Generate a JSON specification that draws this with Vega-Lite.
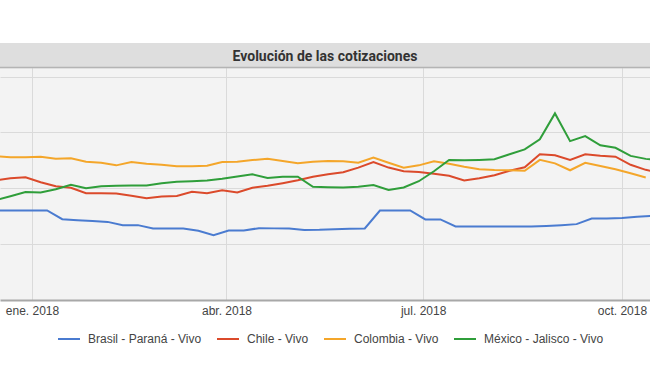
{
"$schema": "https://vega.github.io/schema/vega-lite/v6.json",
"width": 650,
"height": 257,
"autosize": {"type": "none"},
"padding": {"top": 43, "left": 0, "right": 0, "bottom": 66},
"background": "#ffffff",
"view": {"fill": "#f3f3f3", "stroke": null},
"config": {"font": "Liberation Sans"},
"layer": [
{
"data": {"values": [
{"d":"2017-12-11","s":"Brasil - Paraná - Vivo","v":0.801},
{"d":"2017-12-18","s":"Brasil - Paraná - Vivo","v":0.801},
{"d":"2017-12-25","s":"Brasil - Paraná - Vivo","v":0.801},
{"d":"2018-01-01","s":"Brasil - Paraná - Vivo","v":0.801},
{"d":"2018-01-08","s":"Brasil - Paraná - Vivo","v":0.801},
{"d":"2018-01-15","s":"Brasil - Paraná - Vivo","v":0.723},
{"d":"2018-01-22","s":"Brasil - Paraná - Vivo","v":0.714},
{"d":"2018-01-29","s":"Brasil - Paraná - Vivo","v":0.707},
{"d":"2018-02-05","s":"Brasil - Paraná - Vivo","v":0.699},
{"d":"2018-02-12","s":"Brasil - Paraná - Vivo","v":0.670},
{"d":"2018-02-19","s":"Brasil - Paraná - Vivo","v":0.670},
{"d":"2018-02-26","s":"Brasil - Paraná - Vivo","v":0.640},
{"d":"2018-03-05","s":"Brasil - Paraná - Vivo","v":0.640},
{"d":"2018-03-12","s":"Brasil - Paraná - Vivo","v":0.640},
{"d":"2018-03-19","s":"Brasil - Paraná - Vivo","v":0.619},
{"d":"2018-03-26","s":"Brasil - Paraná - Vivo","v":0.580},
{"d":"2018-04-02","s":"Brasil - Paraná - Vivo","v":0.621},
{"d":"2018-04-09","s":"Brasil - Paraná - Vivo","v":0.621},
{"d":"2018-04-16","s":"Brasil - Paraná - Vivo","v":0.643},
{"d":"2018-04-23","s":"Brasil - Paraná - Vivo","v":0.641},
{"d":"2018-04-30","s":"Brasil - Paraná - Vivo","v":0.640},
{"d":"2018-05-07","s":"Brasil - Paraná - Vivo","v":0.627},
{"d":"2018-05-14","s":"Brasil - Paraná - Vivo","v":0.629},
{"d":"2018-05-21","s":"Brasil - Paraná - Vivo","v":0.634},
{"d":"2018-05-28","s":"Brasil - Paraná - Vivo","v":0.638},
{"d":"2018-06-04","s":"Brasil - Paraná - Vivo","v":0.640},
{"d":"2018-06-11","s":"Brasil - Paraná - Vivo","v":0.801},
{"d":"2018-06-18","s":"Brasil - Paraná - Vivo","v":0.801},
{"d":"2018-06-25","s":"Brasil - Paraná - Vivo","v":0.801},
{"d":"2018-07-02","s":"Brasil - Paraná - Vivo","v":0.721},
{"d":"2018-07-09","s":"Brasil - Paraná - Vivo","v":0.721},
{"d":"2018-07-16","s":"Brasil - Paraná - Vivo","v":0.658},
{"d":"2018-07-23","s":"Brasil - Paraná - Vivo","v":0.658},
{"d":"2018-07-30","s":"Brasil - Paraná - Vivo","v":0.658},
{"d":"2018-08-06","s":"Brasil - Paraná - Vivo","v":0.658},
{"d":"2018-08-13","s":"Brasil - Paraná - Vivo","v":0.658},
{"d":"2018-08-20","s":"Brasil - Paraná - Vivo","v":0.658},
{"d":"2018-08-27","s":"Brasil - Paraná - Vivo","v":0.663},
{"d":"2018-09-03","s":"Brasil - Paraná - Vivo","v":0.670},
{"d":"2018-09-10","s":"Brasil - Paraná - Vivo","v":0.679},
{"d":"2018-09-17","s":"Brasil - Paraná - Vivo","v":0.729},
{"d":"2018-09-24","s":"Brasil - Paraná - Vivo","v":0.730},
{"d":"2018-10-01","s":"Brasil - Paraná - Vivo","v":0.734},
{"d":"2018-10-08","s":"Brasil - Paraná - Vivo","v":0.746},
{"d":"2018-10-15","s":"Brasil - Paraná - Vivo","v":0.753},
{"d":"2017-12-15","s":"Chile - Vivo","v":1.071},
{"d":"2017-12-22","s":"Chile - Vivo","v":1.089},
{"d":"2017-12-29","s":"Chile - Vivo","v":1.098},
{"d":"2018-01-05","s":"Chile - Vivo","v":1.054},
{"d":"2018-01-12","s":"Chile - Vivo","v":1.018},
{"d":"2018-01-19","s":"Chile - Vivo","v":1.004},
{"d":"2018-01-26","s":"Chile - Vivo","v":0.955},
{"d":"2018-02-02","s":"Chile - Vivo","v":0.955},
{"d":"2018-02-09","s":"Chile - Vivo","v":0.953},
{"d":"2018-02-16","s":"Chile - Vivo","v":0.933},
{"d":"2018-02-23","s":"Chile - Vivo","v":0.911},
{"d":"2018-03-02","s":"Chile - Vivo","v":0.926},
{"d":"2018-03-09","s":"Chile - Vivo","v":0.931},
{"d":"2018-03-16","s":"Chile - Vivo","v":0.969},
{"d":"2018-03-23","s":"Chile - Vivo","v":0.955},
{"d":"2018-03-30","s":"Chile - Vivo","v":0.982},
{"d":"2018-04-06","s":"Chile - Vivo","v":0.962},
{"d":"2018-04-13","s":"Chile - Vivo","v":1.004},
{"d":"2018-04-20","s":"Chile - Vivo","v":1.022},
{"d":"2018-04-27","s":"Chile - Vivo","v":1.045},
{"d":"2018-05-04","s":"Chile - Vivo","v":1.071},
{"d":"2018-05-11","s":"Chile - Vivo","v":1.103},
{"d":"2018-05-18","s":"Chile - Vivo","v":1.125},
{"d":"2018-05-25","s":"Chile - Vivo","v":1.143},
{"d":"2018-06-01","s":"Chile - Vivo","v":1.185},
{"d":"2018-06-08","s":"Chile - Vivo","v":1.235},
{"d":"2018-06-15","s":"Chile - Vivo","v":1.185},
{"d":"2018-06-22","s":"Chile - Vivo","v":1.152},
{"d":"2018-06-29","s":"Chile - Vivo","v":1.146},
{"d":"2018-07-06","s":"Chile - Vivo","v":1.129},
{"d":"2018-07-13","s":"Chile - Vivo","v":1.112},
{"d":"2018-07-20","s":"Chile - Vivo","v":1.069},
{"d":"2018-07-27","s":"Chile - Vivo","v":1.089},
{"d":"2018-08-03","s":"Chile - Vivo","v":1.116},
{"d":"2018-08-10","s":"Chile - Vivo","v":1.156},
{"d":"2018-08-17","s":"Chile - Vivo","v":1.188},
{"d":"2018-08-24","s":"Chile - Vivo","v":1.304},
{"d":"2018-08-31","s":"Chile - Vivo","v":1.295},
{"d":"2018-09-07","s":"Chile - Vivo","v":1.253},
{"d":"2018-09-14","s":"Chile - Vivo","v":1.304},
{"d":"2018-09-21","s":"Chile - Vivo","v":1.290},
{"d":"2018-09-28","s":"Chile - Vivo","v":1.283},
{"d":"2018-10-05","s":"Chile - Vivo","v":1.210},
{"d":"2018-10-12","s":"Chile - Vivo","v":1.165},
{"d":"2018-10-19","s":"Chile - Vivo","v":1.134},
{"d":"2017-12-15","s":"Colombia - Vivo","v":1.286},
{"d":"2017-12-22","s":"Colombia - Vivo","v":1.277},
{"d":"2017-12-29","s":"Colombia - Vivo","v":1.277},
{"d":"2018-01-05","s":"Colombia - Vivo","v":1.281},
{"d":"2018-01-12","s":"Colombia - Vivo","v":1.265},
{"d":"2018-01-19","s":"Colombia - Vivo","v":1.268},
{"d":"2018-01-26","s":"Colombia - Vivo","v":1.237},
{"d":"2018-02-02","s":"Colombia - Vivo","v":1.228},
{"d":"2018-02-09","s":"Colombia - Vivo","v":1.205},
{"d":"2018-02-16","s":"Colombia - Vivo","v":1.235},
{"d":"2018-02-23","s":"Colombia - Vivo","v":1.219},
{"d":"2018-03-02","s":"Colombia - Vivo","v":1.210},
{"d":"2018-03-09","s":"Colombia - Vivo","v":1.196},
{"d":"2018-03-16","s":"Colombia - Vivo","v":1.198},
{"d":"2018-03-23","s":"Colombia - Vivo","v":1.201},
{"d":"2018-03-30","s":"Colombia - Vivo","v":1.235},
{"d":"2018-04-06","s":"Colombia - Vivo","v":1.237},
{"d":"2018-04-13","s":"Colombia - Vivo","v":1.252},
{"d":"2018-04-20","s":"Colombia - Vivo","v":1.263},
{"d":"2018-04-27","s":"Colombia - Vivo","v":1.244},
{"d":"2018-05-04","s":"Colombia - Vivo","v":1.223},
{"d":"2018-05-11","s":"Colombia - Vivo","v":1.237},
{"d":"2018-05-18","s":"Colombia - Vivo","v":1.244},
{"d":"2018-05-25","s":"Colombia - Vivo","v":1.241},
{"d":"2018-06-01","s":"Colombia - Vivo","v":1.228},
{"d":"2018-06-08","s":"Colombia - Vivo","v":1.274},
{"d":"2018-06-15","s":"Colombia - Vivo","v":1.228},
{"d":"2018-06-22","s":"Colombia - Vivo","v":1.183},
{"d":"2018-06-29","s":"Colombia - Vivo","v":1.205},
{"d":"2018-07-06","s":"Colombia - Vivo","v":1.241},
{"d":"2018-07-13","s":"Colombia - Vivo","v":1.219},
{"d":"2018-07-20","s":"Colombia - Vivo","v":1.192},
{"d":"2018-07-27","s":"Colombia - Vivo","v":1.170},
{"d":"2018-08-03","s":"Colombia - Vivo","v":1.163},
{"d":"2018-08-10","s":"Colombia - Vivo","v":1.161},
{"d":"2018-08-17","s":"Colombia - Vivo","v":1.156},
{"d":"2018-08-24","s":"Colombia - Vivo","v":1.254},
{"d":"2018-08-31","s":"Colombia - Vivo","v":1.223},
{"d":"2018-09-07","s":"Colombia - Vivo","v":1.161},
{"d":"2018-09-14","s":"Colombia - Vivo","v":1.228},
{"d":"2018-09-21","s":"Colombia - Vivo","v":1.199},
{"d":"2018-09-28","s":"Colombia - Vivo","v":1.170},
{"d":"2018-10-05","s":"Colombia - Vivo","v":1.134},
{"d":"2018-10-12","s":"Colombia - Vivo","v":1.096},
{"d":"2017-12-15","s":"México - Jalisco - Vivo","v":0.893},
{"d":"2017-12-22","s":"México - Jalisco - Vivo","v":0.929},
{"d":"2017-12-29","s":"México - Jalisco - Vivo","v":0.967},
{"d":"2018-01-05","s":"México - Jalisco - Vivo","v":0.962},
{"d":"2018-01-12","s":"México - Jalisco - Vivo","v":0.991},
{"d":"2018-01-19","s":"México - Jalisco - Vivo","v":1.031},
{"d":"2018-01-26","s":"México - Jalisco - Vivo","v":1.000},
{"d":"2018-02-02","s":"México - Jalisco - Vivo","v":1.018},
{"d":"2018-02-09","s":"México - Jalisco - Vivo","v":1.022},
{"d":"2018-02-16","s":"México - Jalisco - Vivo","v":1.024},
{"d":"2018-02-23","s":"México - Jalisco - Vivo","v":1.024},
{"d":"2018-03-02","s":"México - Jalisco - Vivo","v":1.045},
{"d":"2018-03-09","s":"México - Jalisco - Vivo","v":1.058},
{"d":"2018-03-16","s":"México - Jalisco - Vivo","v":1.063},
{"d":"2018-03-23","s":"México - Jalisco - Vivo","v":1.069},
{"d":"2018-03-30","s":"México - Jalisco - Vivo","v":1.085},
{"d":"2018-04-06","s":"México - Jalisco - Vivo","v":1.105},
{"d":"2018-04-13","s":"México - Jalisco - Vivo","v":1.125},
{"d":"2018-04-20","s":"México - Jalisco - Vivo","v":1.091},
{"d":"2018-04-27","s":"México - Jalisco - Vivo","v":1.103},
{"d":"2018-05-04","s":"México - Jalisco - Vivo","v":1.104},
{"d":"2018-05-11","s":"México - Jalisco - Vivo","v":1.013},
{"d":"2018-05-18","s":"México - Jalisco - Vivo","v":1.009},
{"d":"2018-05-25","s":"México - Jalisco - Vivo","v":1.006},
{"d":"2018-06-01","s":"México - Jalisco - Vivo","v":1.013},
{"d":"2018-06-08","s":"México - Jalisco - Vivo","v":1.029},
{"d":"2018-06-15","s":"México - Jalisco - Vivo","v":0.985},
{"d":"2018-06-22","s":"México - Jalisco - Vivo","v":1.007},
{"d":"2018-06-29","s":"México - Jalisco - Vivo","v":1.063},
{"d":"2018-07-06","s":"México - Jalisco - Vivo","v":1.152},
{"d":"2018-07-13","s":"México - Jalisco - Vivo","v":1.253},
{"d":"2018-07-20","s":"México - Jalisco - Vivo","v":1.250},
{"d":"2018-07-27","s":"México - Jalisco - Vivo","v":1.254},
{"d":"2018-08-03","s":"México - Jalisco - Vivo","v":1.259},
{"d":"2018-08-10","s":"México - Jalisco - Vivo","v":1.304},
{"d":"2018-08-17","s":"México - Jalisco - Vivo","v":1.348},
{"d":"2018-08-24","s":"México - Jalisco - Vivo","v":1.438},
{"d":"2018-08-31","s":"México - Jalisco - Vivo","v":1.670},
{"d":"2018-09-07","s":"México - Jalisco - Vivo","v":1.422},
{"d":"2018-09-14","s":"México - Jalisco - Vivo","v":1.467},
{"d":"2018-09-21","s":"México - Jalisco - Vivo","v":1.384},
{"d":"2018-09-28","s":"México - Jalisco - Vivo","v":1.362},
{"d":"2018-10-05","s":"México - Jalisco - Vivo","v":1.290},
{"d":"2018-10-12","s":"México - Jalisco - Vivo","v":1.263},
{"d":"2018-10-19","s":"México - Jalisco - Vivo","v":1.250}
]},
"mark": {"type": "line", "strokeWidth": 2, "clip": true},
"encoding": {
"x": {"field": "d", "type": "temporal",
"scale": {"domain": [{"year": 2017, "month": 12, "date": 17, "hours": 4, "minutes": 30, "utc": true}, {"year": 2018, "month": 10, "date": 13, "hours": 23, "minutes": 30, "utc": true}]},
"axis": {"title": null, "values": [{"year": 2018, "month": 1, "date": 1, "utc": true}, {"year": 2018, "month": 4, "date": 1, "utc": true}, {"year": 2018, "month": 7, "date": 1, "utc": true}, {"year": 2018, "month": 10, "date": 1, "utc": true}],
"labelExpr": "['ene.','feb.','mar.','abr.','may.','jun.','jul.','ago.','sep.','oct.','nov.','dic.'][utcmonth(datum.value)] + ' ' + utcyear(datum.value)",
"ticks": false, "labelPadding": 5, "labelFontSize": 12, "labelColor": "#444444", "labelFlush": false, "labelOverlap": false,
"domainColor": "#a8a8a8", "domainWidth": 2, "grid": true, "gridColor": "#dadada", "gridWidth": 1}},
"y": {"field": "v", "type": "quantitative",
"scale": {"domain": [0, 2.3], "nice": false, "zero": false},
"axis": {"title": null, "values": [0.5, 1, 1.5, 2], "domain": false, "ticks": false, "labels": false, "grid": true, "gridColor": "#dadada", "gridWidth": 1}},
"color": {"field": "s", "type": "nominal",
"scale": {"domain": ["Brasil - Paraná - Vivo", "Chile - Vivo", "Colombia - Vivo", "México - Jalisco - Vivo"], "range": ["#4a7bd0", "#db4a2b", "#f4a62a", "#2f9e3a"]},
"legend": {"orient": "none", "legendX": 57, "legendY": 284, "direction": "horizontal", "title": null, "symbolType": "stroke", "symbolSize": 484, "symbolStrokeWidth": 2, "labelFontSize": 12, "labelColor": "#444444", "labelOffset": 7, "columnPadding": 11, "padding": 0, "labelLimit": 300}}
}
},
{
"data": {"values": [{}]},
"mark": {"type": "rect", "color": "#dedede"},
"encoding": {"y": {"datum": 2.3, "type": "quantitative"}, "y2": {"datum": 2.075}}
},
{
"data": {"values": [{}]},
"mark": {"type": "rule", "color": "#b4b4b4", "strokeWidth": 1.5},
"encoding": {"y": {"datum": 2.08, "type": "quantitative"}}
},
{
"data": {"values": [{"t": "Evolución de las cotizaciones"}]},
"mark": {"type": "text", "font": "Roboto", "fontSize": 14, "fontWeight": "bold", "color": "#333333", "baseline": "middle"},
"encoding": {"y": {"datum": 2.175, "type": "quantitative"}, "text": {"field": "t"}}
}
]
}
